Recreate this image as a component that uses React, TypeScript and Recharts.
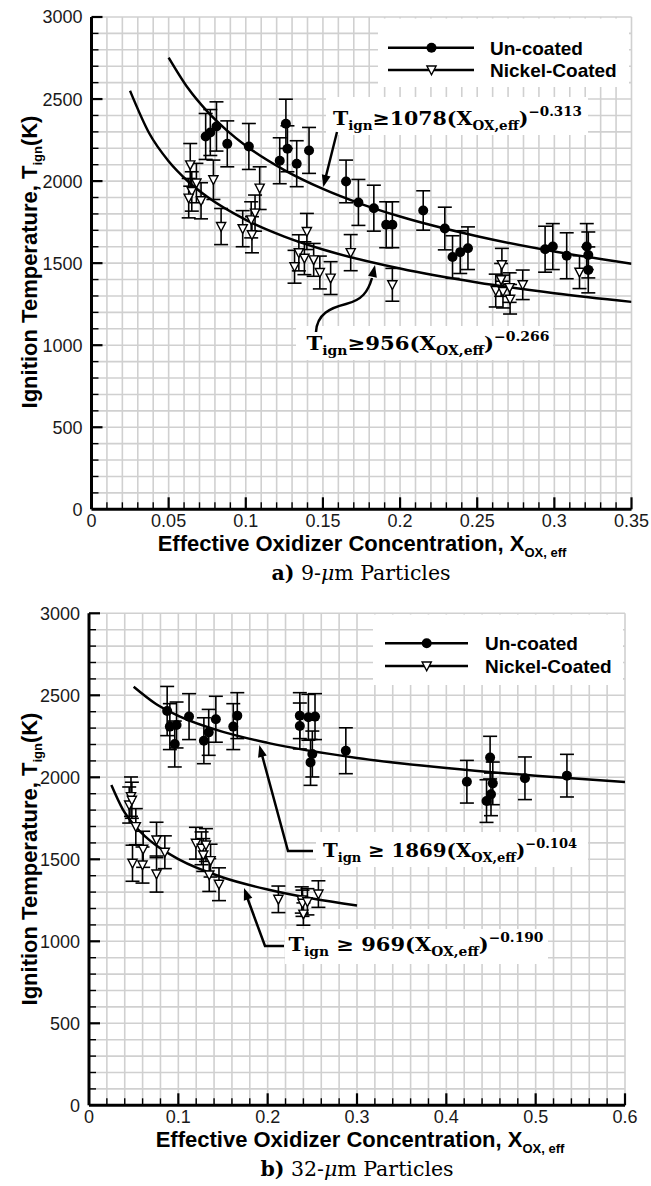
import React from 'react';
import { ComposedChart, Scatter, Line, XAxis, YAxis, CartesianGrid, ErrorBar } from 'recharts';

// ---------------- Panel a) 9-um particles ----------------
const aUncoatedX = [0.074, 0.077, 0.081, 0.088, 0.102, 0.122, 0.126, 0.127, 0.133, 0.141, 0.165, 0.173, 0.183, 0.191, 0.195, 0.215, 0.229, 0.234, 0.239, 0.244, 0.294, 0.299, 0.308, 0.321, 0.322, 0.322];
const aUncoatedT = [2272, 2296, 2333, 2227, 2211, 2124, 2349, 2197, 2106, 2187, 1998, 1870, 1835, 1734, 1734, 1821, 1711, 1537, 1567, 1591, 1585, 1601, 1545, 1601, 1550, 1459];
const aUncoatedErr = [140, 140, 150, 140, 140, 140, 150, 140, 140, 140, 130, 140, 140, 140, 140, 120, 130, 130, 130, 130, 140, 140, 140, 140, 140, 140];

const aNickelX = [0.064, 0.065, 0.063, 0.068, 0.071, 0.079, 0.084, 0.098, 0.1035, 0.106, 0.104, 0.109, 0.1316, 0.1344, 0.138, 0.1396, 0.144, 0.148, 0.155, 0.168, 0.195, 0.262, 0.2655, 0.266, 0.2667, 0.271, 0.2713, 0.2795, 0.3163];
const aNickelT = [2099, 1937, 1896, 1988, 1880, 2008, 1723, 1710, 1764, 1805, 1673, 1957, 1478, 1563, 1530, 1693, 1520, 1443, 1409, 1564, 1368, 1333, 1398, 1490, 1327, 1351, 1280, 1368, 1445];
const aNickelErr = [130, 120, 120, 120, 110, 120, 110, 110, 110, 110, 110, 130, 100, 110, 100, 110, 100, 100, 100, 110, 100, 100, 100, 100, 100, 90, 90, 90, 100];

const aFitUncoatedX = [0.05, 0.0625, 0.075, 0.0875, 0.1, 0.125, 0.15, 0.175, 0.2, 0.25, 0.3, 0.35];
const aFitUncoatedT = [2753, 2567, 2425, 2311, 2216, 2067, 1952, 1860, 1784, 1664, 1571, 1497];
const aFitNickelX = [0.025, 0.0375, 0.05, 0.0625, 0.075, 0.1, 0.125, 0.15, 0.2, 0.25, 0.3, 0.35];
const aFitNickelT = [2550, 2290, 2121, 1999, 1904, 1764, 1662, 1583, 1467, 1382, 1317, 1264];

const aXMajorTicks = [0, 0.05, 0.1, 0.15, 0.2, 0.25, 0.3, 0.35];

// ---------------- Panel b) 32-um particles ----------------
const bUncoatedX = [0.0875, 0.0905, 0.098, 0.096, 0.112, 0.1286, 0.134, 0.142, 0.1615, 0.166, 0.236, 0.236, 0.2456, 0.253, 0.25, 0.248, 0.2875, 0.423, 0.449, 0.452, 0.45, 0.445, 0.488, 0.535];
const bUncoatedT = [2404, 2309, 2319, 2203, 2370, 2223, 2274, 2354, 2309, 2376, 2376, 2313, 2366, 2370, 2142, 2091, 2162, 1973, 2120, 1963, 1896, 1855, 1994, 2010];
const bUncoatedErr = [150, 140, 140, 140, 140, 140, 140, 140, 140, 140, 140, 140, 140, 140, 140, 140, 140, 130, 130, 130, 130, 130, 130, 130];

const bNickelX = [0.047, 0.045, 0.048, 0.0524, 0.0487, 0.0599, 0.0606, 0.0756, 0.0756, 0.0849, 0.1197, 0.126, 0.1309, 0.1279, 0.1361, 0.1346, 0.1455, 0.212, 0.2382, 0.239, 0.24, 0.2445, 0.2568];
const bNickelT = [1882, 1831, 1860, 1699, 1476, 1465, 1561, 1618, 1410, 1543, 1598, 1567, 1587, 1526, 1492, 1404, 1348, 1256, 1252, 1232, 1166, 1241, 1288];
const bNickelErr = [120, 110, 110, 110, 110, 110, 110, 108, 110, 100, 97, 100, 100, 100, 100, 100, 100, 81, 80, 80, 68, 80, 81];

const bFitUncoatedX = [0.05, 0.075, 0.1, 0.15, 0.2, 0.3, 0.4, 0.5, 0.6];
const bFitUncoatedT = [2552, 2447, 2375, 2277, 2210, 2118, 2056, 2009, 1971];
const bFitNickelX = [0.025, 0.0375, 0.05, 0.0625, 0.075, 0.1, 0.15, 0.2, 0.25, 0.3];
const bFitNickelT = [1953, 1808, 1712, 1641, 1585, 1501, 1389, 1316, 1261, 1218];

const bXMajorTicks = [0, 0.1, 0.2, 0.3, 0.4, 0.5, 0.6];

const yMajorTicks = [0, 500, 1000, 1500, 2000, 2500, 3000];

// ---------------- helpers ----------------
const steps = (max: number, step: number) => {
  const out: number[] = [];
  const n = Math.round(max / step);
  for (let i = 0; i <= n; i++) out.push(Number((i * step).toFixed(4)));
  return out;
};
const toPts = (xs: number[], ys: number[], es: number[]) => xs.map((x, i) => ({ x, y: ys[i], e: es[i] }));
const toLine = (xs: number[], ys: number[]) => xs.map((x, i) => ({ x, y: ys[i] }));
const isIn = (arr: number[], v: number) => arr.some((m) => Math.abs(m - v) < 1e-9);

const SANS = "'Liberation Sans', Arial, Helvetica, sans-serif";
const SERIF = "'DejaVu Serif', 'Liberation Serif', serif";
const GRID = '#d0d0d0';

const TICK_MARGIN_X = 4;
const TICK_MARGIN_Y = 9;

const CircleDot = (p: any) => <circle cx={p.cx} cy={p.cy} r={5} fill="#000" />;
const TriDot = (p: any) => (
  <polygon
    points={`${p.cx - 4.6},${p.cy - 4} ${p.cx + 4.6},${p.cy - 4} ${p.cx},${p.cy + 4.8}`}
    fill="#fff"
    stroke="#000"
    strokeWidth={1.4}
  />
);

const fmt = (v: number) => String(Number(v.toFixed(3)));

function makeXTick(majors: number[]) {
  return (p: any) => {
    const v = p.payload.value;
    const major = isIn(majors, v);
    const axisY = p.y - TICK_MARGIN_X;
    const len = major ? 12 : 7;
    return (
      <g>
        {v > 1e-9 && (
          <line x1={p.x} x2={p.x} y1={axisY} y2={axisY - len} stroke="#000" strokeWidth={major ? 2.2 : 1.4} />
        )}
        {major && (
          <text x={p.x} y={p.y} dy="0.76em" textAnchor="middle" fontFamily={SANS} fontSize={18} fill="#1a1a1a">
            {fmt(v)}
          </text>
        )}
      </g>
    );
  };
}

function makeYTick(majors: number[]) {
  return (p: any) => {
    const v = p.payload.value;
    const major = isIn(majors, v);
    const axisX = p.x + TICK_MARGIN_Y;
    const len = major ? 11 : 7;
    return (
      <g>
        {v > 1e-9 && (
          <line x1={axisX} x2={axisX + len} y1={p.y} y2={p.y} stroke="#000" strokeWidth={major ? 2.2 : 1.4} />
        )}
        {major && (
          <text x={p.x} y={p.y} dy="0.36em" textAnchor="end" fontFamily={SANS} fontSize={18} fill="#1a1a1a">
            {String(v)}
          </text>
        )}
      </g>
    );
  };
}

type PanelProps = {
  top: number;
  margin: { top: number; right: number; bottom: number; left: number };
  xMax: number;
  xStep: number;
  xMajors: number[];
  uncoated: { x: number; y: number; e: number }[];
  nickel: { x: number; y: number; e: number }[];
  fitUncoated: { x: number; y: number }[];
  fitNickel: { x: number; y: number }[];
};

function Panel(props: PanelProps) {
  const xGrid = steps(props.xMax, props.xStep);
  const yGrid = steps(3000, 100);
  return (
    <div style={{ position: 'absolute', left: 0, top: props.top }}>
      <ComposedChart width={651} height={600} margin={props.margin}>
        <CartesianGrid stroke={GRID} strokeWidth={1.6} />
        <XAxis
          type="number"
          dataKey="x"
          domain={[0, props.xMax]}
          ticks={xGrid}
          interval={0}
          allowDataOverflow
          height={30}
          tickSize={0}
          tickMargin={TICK_MARGIN_X}
          tickLine={false}
          axisLine={{ stroke: '#000', strokeWidth: 3 }}
          tick={makeXTick(props.xMajors)}
        />
        <YAxis
          type="number"
          dataKey="y"
          domain={[0, 3000]}
          ticks={yGrid}
          interval={0}
          allowDataOverflow
          width={60}
          tickSize={0}
          tickMargin={TICK_MARGIN_Y}
          tickLine={false}
          axisLine={{ stroke: '#000', strokeWidth: 3 }}
          tick={makeYTick(yMajorTicks)}
        />
        <Line
          data={props.fitUncoated}
          dataKey="y"
          type="monotone"
          stroke="#000"
          strokeWidth={2.5}
          dot={false}
          activeDot={false}
          isAnimationActive={false}
        />
        <Line
          data={props.fitNickel}
          dataKey="y"
          type="monotone"
          stroke="#000"
          strokeWidth={2.5}
          dot={false}
          activeDot={false}
          isAnimationActive={false}
        />
        <Scatter data={props.nickel} dataKey="y" shape={TriDot} isAnimationActive={false}>
          <ErrorBar dataKey="e" direction="y" width={7} stroke="#000" strokeWidth={1.6} />
        </Scatter>
        <Scatter data={props.uncoated} dataKey="y" shape={CircleDot} isAnimationActive={false}>
          <ErrorBar dataKey="e" direction="y" width={7} stroke="#000" strokeWidth={1.6} />
        </Scatter>
      </ComposedChart>
    </div>
  );
}

function Equation({ x, y, coef, exp, spaced, width }: { x: number; y: number; coef: string; exp: string; spaced: boolean; width: number }) {
  return (
    <text x={x} y={y} fontFamily={SERIF} fontWeight="bold" fontSize={19} fill="#000" textLength={width} lengthAdjust="spacingAndGlyphs">
      <tspan>T</tspan>
      <tspan fontSize={12.5} dy={5}>ign</tspan>
      <tspan dy={-5}>{spaced ? ' ≥ ' : '≥'}{coef}(X</tspan>
      <tspan fontSize={12.5} dy={5}>OX,eff</tspan>
      <tspan dy={-5}>)</tspan>
      <tspan fontSize={12.5} dy={-9}>−{exp}</tspan>
    </text>
  );
}

function Arrowhead({ tx, ty, fx, fy }: { tx: number; ty: number; fx: number; fy: number }) {
  const dx = tx - fx;
  const dy = ty - fy;
  const L = Math.hypot(dx, dy);
  const ux = dx / L;
  const uy = dy / L;
  const len = 12;
  const hw = 4.5;
  const bx = tx - ux * len;
  const by = ty - uy * len;
  return (
    <polygon
      points={`${tx},${ty} ${bx - uy * hw},${by + ux * hw} ${bx + uy * hw},${by - ux * hw}`}
      fill="#000"
    />
  );
}

function Legend({ x0, x1, xm, xt, y1, y2 }: { x0: number; x1: number; xm: number; xt: number; y1: number; y2: number }) {
  return (
    <g>
      <line x1={x0} x2={x1} y1={y1} y2={y1} stroke="#000" strokeWidth={2.5} />
      <circle cx={xm} cy={y1} r={5} fill="#000" />
      <text x={xt} y={y1 + 7} fontFamily={SANS} fontWeight="bold" fontSize={19} fill="#000">Un-coated</text>
      <line x1={x0} x2={x1} y1={y2} y2={y2} stroke="#000" strokeWidth={2.5} />
      <polygon points={`${xm - 4.6},${y2 - 4} ${xm + 4.6},${y2 - 4} ${xm},${y2 + 4.8}`} fill="#fff" stroke="#000" strokeWidth={1.4} />
      <text x={xt} y={y2 + 7} fontFamily={SANS} fontWeight="bold" fontSize={19} fill="#000">Nickel-Coated</text>
    </g>
  );
}

function Overlay() {
  return (
    <svg width={651} height={1186} style={{ position: 'absolute', left: 0, top: 0, pointerEvents: 'none' }}>
      {/* ---------- panel a ---------- */}
      <rect x={378} y={18.5} width={251} height={68.5} fill="#fff" />
      <Legend x0={388} x1={474} xm={431.5} xt={490} y1={47.7} y2={70} />

      <rect x={326} y={97} width={262} height={38} fill="#fff" />
      <Equation x={333} y={125} coef="1078" exp="0.313" spaced={false} width={249} />
      <line x1={337} y1={132} x2={324.5} y2={182} stroke="#000" strokeWidth={2.5} />
      <Arrowhead tx={323.3} ty={187} fx={337} fy={132} />

      <rect x={296} y={326} width={257} height={34} fill="#fff" />
      <Equation x={306.5} y={350} coef="956" exp="0.266" spaced={false} width={243} />
      <path d="M316,332 C317,314 330,308 346,304 C362,300 368,292 372,278" fill="none" stroke="#000" strokeWidth={2.5} />
      <Arrowhead tx={375} ty={265} fx={371.5} fy={281} />

      <text transform="translate(37,262) rotate(-90)" textAnchor="middle" fontFamily={SANS} fontWeight="bold" fontSize={22} fill="#000">
        Ignition Temperature, T<tspan fontSize={13} dy={5}>ign</tspan>
        <tspan dy={-5}>(K)</tspan>
      </text>
      <text x={362} y={551} textAnchor="middle" fontFamily={SANS} fontWeight="bold" fontSize={22} fill="#000">
        Effective Oxidizer Concentration, X<tspan fontSize={13} dy={6}>OX, eff</tspan>
      </text>
      <text x={361} y={580} textAnchor="middle" fontFamily={SERIF} fontSize={20.5} fill="#000">
        <tspan fontWeight="bold">a)</tspan> 9-<tspan fontStyle="italic">μ</tspan>m Particles
      </text>

      {/* ---------- panel b ---------- */}
      <rect x={373} y={614.5} width={250} height={70.5} fill="#fff" />
      <Legend x0={385} x1={468} xm={426.7} xt={485} y1={643.3} y2={666} />

      <rect x={316} y={832} width={272} height={35} fill="#fff" />
      <Equation x={323} y={857} coef="1869" exp="0.104" spaced={true} width={254} />
      <polyline points="313,851 288,851 262,755" fill="none" stroke="#000" strokeWidth={2.5} />
      <Arrowhead tx={259.3} ty={745} fx={288} fy={851} />

      <rect x={285} y={929} width={263} height={35} fill="#fff" />
      <Equation x={288.5} y={951} coef="969" exp="0.190" spaced={true} width={255} />
      <polyline points="284,946 265,946 247,897" fill="none" stroke="#000" strokeWidth={2.5} />
      <Arrowhead tx={244} ty={888} fx={265} fy={946} />

      <text transform="translate(37,859) rotate(-90)" textAnchor="middle" fontFamily={SANS} fontWeight="bold" fontSize={22} fill="#000">
        Ignition Temperature, T<tspan fontSize={13} dy={5}>ign</tspan>
        <tspan dy={-5}>(K)</tspan>
      </text>
      <text x={360} y={1147} textAnchor="middle" fontFamily={SANS} fontWeight="bold" fontSize={22} fill="#000">
        Effective Oxidizer Concentration, X<tspan fontSize={13} dy={6}>OX, eff</tspan>
      </text>
      <text x={357} y={1176} textAnchor="middle" fontFamily={SERIF} fontSize={20.5} fill="#000">
        <tspan fontWeight="bold">b)</tspan> 32-<tspan fontStyle="italic">μ</tspan>m Particles
      </text>
    </svg>
  );
}

export default function App() {
  return (
    <div style={{ position: 'absolute', left: 0, top: 0, width: 651, height: 1186, overflow: 'hidden', background: '#fff' }}>
      <Panel
        top={0}
        margin={{ top: 17, right: 19.5, bottom: 60.7, left: 31.5 }}
        xMax={0.35}
        xStep={0.01}
        xMajors={aXMajorTicks}
        uncoated={toPts(aUncoatedX, aUncoatedT, aUncoatedErr)}
        nickel={toPts(aNickelX, aNickelT, aNickelErr)}
        fitUncoated={toLine(aFitUncoatedX, aFitUncoatedT)}
        fitNickel={toLine(aFitNickelX, aFitNickelT)}
      />
      <Panel
        top={596}
        margin={{ top: 17.3, right: 26, bottom: 60.7, left: 29 }}
        xMax={0.6}
        xStep={0.02}
        xMajors={bXMajorTicks}
        uncoated={toPts(bUncoatedX, bUncoatedT, bUncoatedErr)}
        nickel={toPts(bNickelX, bNickelT, bNickelErr)}
        fitUncoated={toLine(bFitUncoatedX, bFitUncoatedT)}
        fitNickel={toLine(bFitNickelX, bFitNickelT)}
      />
      <Overlay />
    </div>
  );
}
